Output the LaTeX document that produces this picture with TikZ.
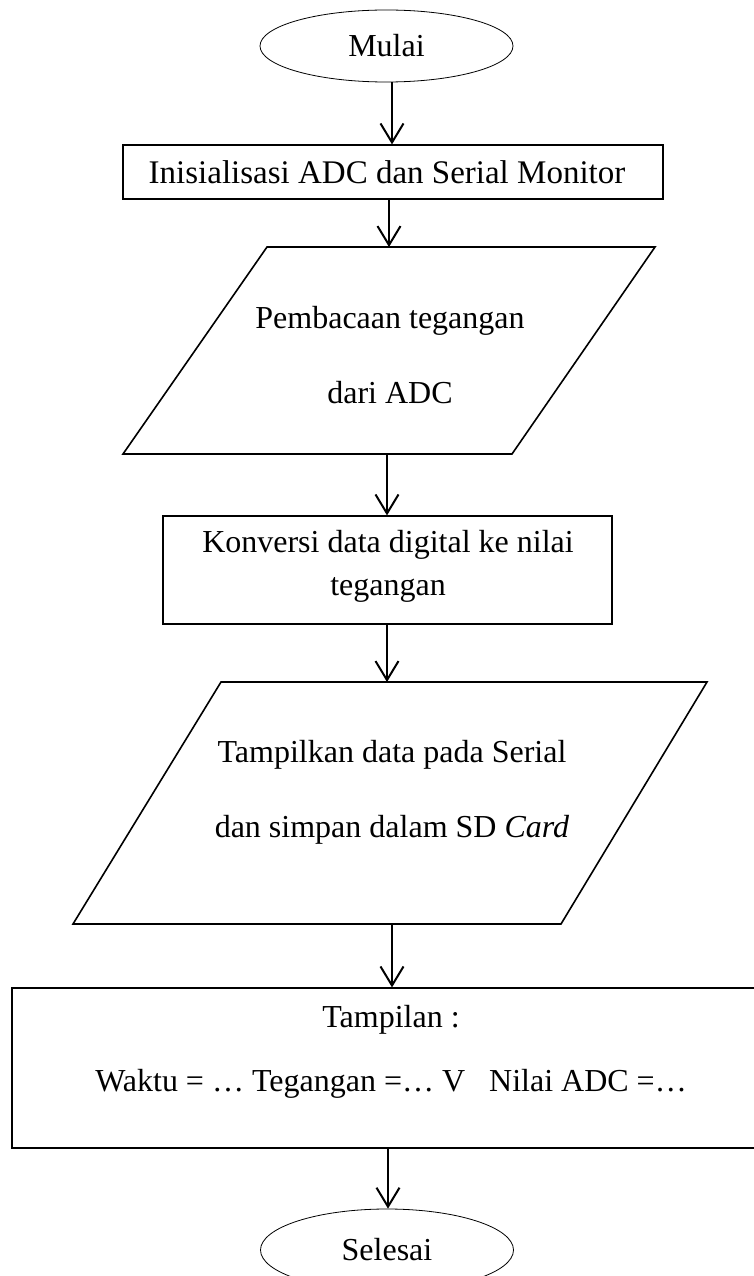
\documentclass[tikz,border=0pt]{standalone}
\usepackage{fontspec}
\setmainfont{Liberation Serif}
\usetikzlibrary{arrows.meta,shapes.geometric}
\begin{document}
\begin{tikzpicture}[x=1pt,y=-1pt,
  every node/.style={font=\fontsize{32}{43}\selectfont},
  term/.style={draw, ellipse, line width=0.8pt, inner sep=0pt},
  box/.style={draw, rectangle, line width=1.2pt, inner sep=0pt, align=center},
  io/.style={draw, line width=1.6pt, line join=miter},
  txt/.style={inner sep=0pt, align=center},
  arr/.style={line width=2pt, -{Straight Barb[length=19pt,width=23pt,line width=2pt]}}
]
\useasboundingbox (0,0) rectangle (753,1276);

% start
\node[term, minimum width=253pt, minimum height=72pt] (start) at (386.5,46) {Mulai};

% init
\node[box, minimum width=540pt, minimum height=54pt] (init) at (393,172) {};
\node[txt, font=\fontsize{33}{43}\selectfont] (initt) at (387,172) {Inisialisasi ADC dan Serial Monitor};

% read (parallelogram)
\coordinate (p1tl) at (267,247);
\coordinate (p1tr) at (655,247);
\coordinate (p1br) at (512,454);
\coordinate (p1bl) at (123,454);
\draw[io] (p1bl) -- (p1tl) -- (p1tr) -- (p1br) -- cycle;
\coordinate (p1t) at (389,247);
\coordinate (p1b) at (387,454);
\node[txt] (read) at (390,355) {Pembacaan tegangan\\[32pt]dari ADC};

% convert
\node[box, minimum width=449pt, minimum height=108pt] (conv) at (387.5,570) {};
\node[txt] (convt) at (388,566) {Konversi data digital ke nilai\\tegangan};

% output (parallelogram)
\coordinate (p2tl) at (221,682);
\coordinate (p2tr) at (707,682);
\coordinate (p2br) at (561,924);
\coordinate (p2bl) at (73,924);
\draw[io] (p2bl) -- (p2tl) -- (p2tr) -- (p2br) -- cycle;
\coordinate (p2t) at (387,682);
\coordinate (p2b) at (392,924);
\node[txt] (show) at (392,792) {Tampilkan data pada Serial\\[32pt]dan simpan dalam SD \textit{Card}};

% display
\node[box, minimum width=750pt, minimum height=160pt] (disp) at (387,1068) {};
\node[txt] (disp1) at (391,1020) {Tampilan :};
\node[txt] (disp2) at (391,1084) {Waktu = … Tegangan =… V \ \ Nilai ADC =…};

% end
\node[term, minimum width=253pt, minimum height=82pt] (stop) at (387,1250) {Selesai};

% connectors
\draw[arr] (start.south -| 392,0) -- (init.north -| 392,0);
\draw[arr] (init.south -| p1t) -- (p1t);
\draw[arr] (p1b) -- (conv.north -| p1b);
\draw[arr] (conv.south -| p2t) -- (p2t);
\draw[arr] (p2b) -- (disp.north -| p2b);
\draw[arr] (disp.south -| 388,0) -- (stop.north -| 388,0);
\end{tikzpicture}
\end{document}
